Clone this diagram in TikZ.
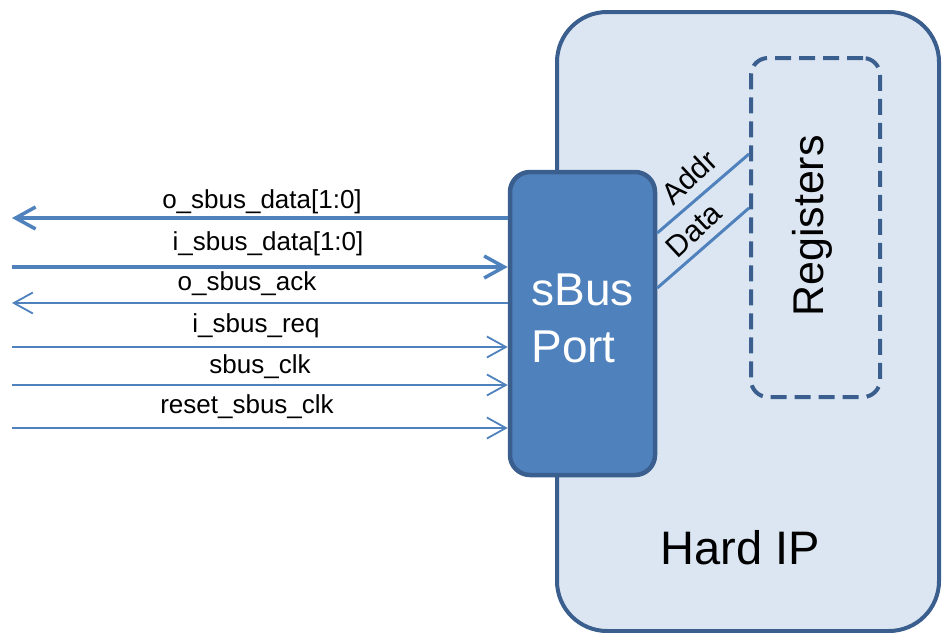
\documentclass[tikz,border=0pt]{standalone}
\usepackage{fontspec}
\setmainfont{Liberation Sans}
\usetikzlibrary{arrows.meta}

\definecolor{portfill}{HTML}{4F81BD}
\definecolor{edgeblue}{HTML}{3A5F8E}
\definecolor{ipfill}{HTML}{DCE6F2}
\definecolor{wireblue}{HTML}{4F81BD}

\tikzset{
  ipbox/.style={draw=edgeblue, fill=ipfill, line width=4pt, rounded corners=50pt,
    minimum width=382pt, minimum height=619pt, inner sep=0pt},
  regbox/.style={draw=edgeblue, line width=4pt, dash pattern=on 16pt off 8pt,
    rounded corners=17pt, minimum width=129pt, minimum height=339pt, inner sep=0pt},
  portbox/.style={draw=edgeblue, fill=portfill, line width=4.5pt, rounded corners=20pt,
    minimum width=145pt, minimum height=303pt, inner sep=0pt},
  buswire/.style={draw=wireblue, line width=3.5pt,
    arrows={-Straight Barb[length=20pt, width=22pt, line width=3.5pt]}},
  sigwire/.style={draw=wireblue, line width=1.8pt,
    arrows={-Straight Barb[length=19pt, width=21pt, line width=1.8pt]}},
  linkwire/.style={draw=wireblue, line width=3pt},
  siglabel/.style={font=\fontsize{26pt}{30pt}\selectfont, anchor=base, inner sep=0pt},
  linklabel/.style={font=\fontsize{30pt}{34pt}\selectfont, rotate=43, inner sep=0pt},
}

\begin{document}
\begin{tikzpicture}[x=1pt, y=-1pt]
\useasboundingbox (0,0) rectangle (942,632);
\clip (0,0) rectangle (942,632);

% hard IP block and its register file
\node[ipbox] (ip) at (748,321.5) {};
\node[font=\fontsize{47pt}{51pt}\selectfont] (iplabel) at (740,548) {Hard IP};
\node[regbox] (regs) at (815.5,227.5) {};
\node[font=\fontsize{43pt}{47pt}\selectfont, rotate=90] (regtext) at (812,226) {Registers};

% free ends of the external signals
\coordinate (s1) at (12,218);
\coordinate (s2) at (12,267);
\coordinate (s3) at (12,303);
\coordinate (s4) at (12,347);
\coordinate (s5) at (12,385);
\coordinate (s6) at (12,428);

% sBus port
\node[portbox] (port) at (582.5,323.5) {};
\node[font=\fontsize{46pt}{57pt}\selectfont, text=white, align=left] (porttext) at (582.5,318) {sBus\\Port};

% external signals
\draw[buswire] (s1 -| port.west) -- (s1);
\draw[buswire] (s2) -- (s2 -| port.west);
\draw[sigwire] (s3 -| port.west) -- (s3);
\draw[sigwire] (s4) -- (s4 -| port.west);
\draw[sigwire] (s5) -- (s5 -| port.west);
\draw[sigwire] (s6) -- (s6 -| port.west);

\node[siglabel] (l1) at (262,208) {o\_sbus\_data[1:0]};
\node[siglabel] (l2) at (268,250) {i\_sbus\_data[1:0]};
\node[siglabel] (l3) at (247,290) {o\_sbus\_ack};
\node[siglabel] (l4) at (256,332) {i\_sbus\_req};
\node[siglabel] (l5) at (260,373) {sbus\_clk};
\node[siglabel] (l6) at (247,413) {reset\_sbus\_clk};

% port-to-register links
\coordinate (a0) at (651,233);
\coordinate (a1) at (749,154);
\coordinate (d0) at (655,288);
\coordinate (d1) at (749,208);
\draw[linkwire] (a0 -| port.east) -- (a1 -| regs.west);
\draw[linkwire] (d0 -| port.east) -- (d1 -| regs.west);
\node[linklabel] (addr) at (689,177) {Addr};
\node[linklabel] (data) at (694,230) {Data};
\end{tikzpicture}
\end{document}
